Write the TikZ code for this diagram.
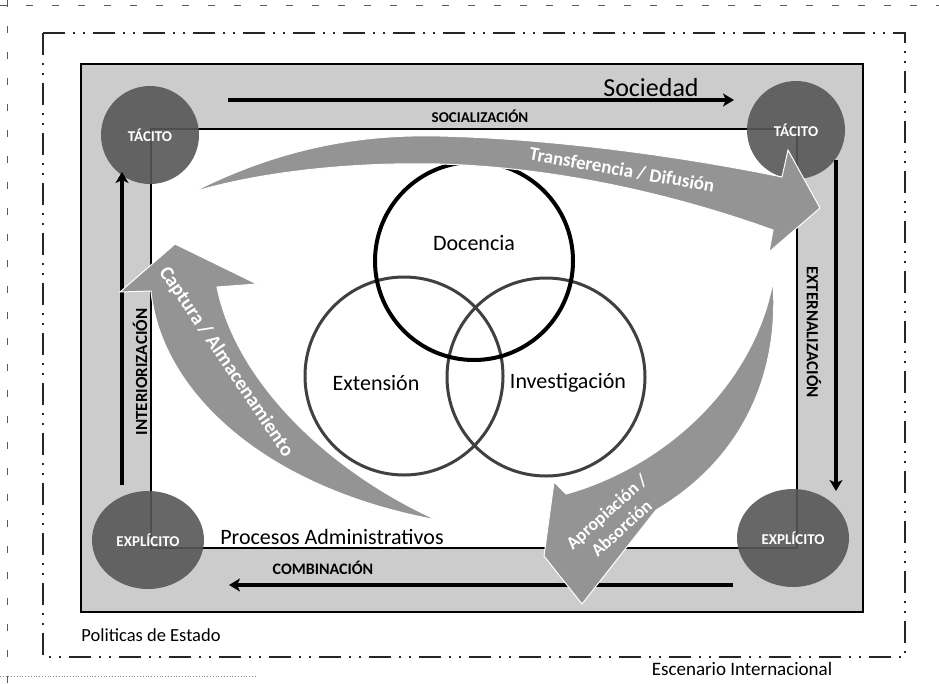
\documentclass[tikz,border=0pt]{standalone}
\usepackage{fontspec}
\setmainfont{Carlito}
\usepackage{tikz}
\usetikzlibrary{positioning}
\usetikzlibrary{arrows.meta}
\usetikzlibrary{shapes.geometric}

\begin{document}
\begin{tikzpicture}[x=1pt, y=-1pt]
    \tikzstyle{corner}=[circle, fill=black!66, fill opacity=0.9, text opacity=1,
            minimum size=98pt, inner sep=0pt, text=white,
            font=\fontsize{15}{16}\selectfont\bfseries]
    \tikzstyle{cornerwide}=[corner, ellipse, minimum width=112pt, minimum height=98pt]
    \tikzstyle{flow}=[line width=3.2pt, -{Stealth[length=11pt, width=13pt, inset=3pt]}]
    \tikzstyle{flowlabel}=[inner sep=1pt, font=\fontsize{15}{16}\selectfont\bfseries]
    \tikzstyle{bigarrow}=[fill=black!42, draw=white, line width=1pt]
    \tikzstyle{arrowtext}=[inner sep=0pt, text=white, align=center,
            font=\fontsize{19}{21}\selectfont\bfseries]
    \tikzstyle{venn}=[circle, minimum size=198pt, inner sep=0pt,
            line width=3pt, draw=black!75]
    \tikzstyle{area}=[font=\fontsize{22}{24}\selectfont]

        \useasboundingbox (0,0) rectangle (939,683);
        \fill[white] (0,0) rectangle (939,683);

        % page and scenario frames
        \draw[black!65, line width=1pt, dash pattern=on 7pt off 19pt] (0,5) -- (939,5);
        \draw[black!65, line width=1pt, dash pattern=on 7pt off 19pt] (7,0) -- (7,683);
        \draw[black!45, line width=0.8pt, dotted] (0,676) -- (257,676);
        \draw[black!85, line width=1.3pt,
            dash pattern=on 22pt off 8pt on 2pt off 8pt on 2pt off 8pt]
            (43,33) rectangle (905,657);

        % society box
        \draw[fill=black!20, line width=1.6pt] (81,64) rectangle (863,612);
        \draw[fill=white, line width=1.2pt] (151,129) rectangle (797,548);

        \foreach \n/\x/\y/\t in {tl/150/135/TÁCITO, tr/796/130/TÁCITO}
        {
            \node[corner] (\n) at (\x,\y) {\t};
        }
        \foreach \n/\x/\y/\t in {bl/148/540/EXPLÍCITO, br/793/538/EXPLÍCITO}
        {
            \node[cornerwide] (\n) at (\x,\y) {\t};
        }

        \coordinate (soc-a) at (228,100);
        \coordinate (soc-b) at (734,100);
        \coordinate (ext-a) at (836,160);
        \coordinate (ext-b) at (836,491);
        \coordinate (com-a) at (733,585);
        \coordinate (com-b) at (229,585);
        \coordinate (int-a) at (122,485);
        \coordinate (int-b) at (122,172);

        \draw[flow] (soc-a) -- (soc-b);
        \draw[flow] (ext-a) -- (ext-b);
        \draw[flow] (com-a) -- (com-b);
        \draw[flow] (int-a) -- (int-b);

        \node[flowlabel] (soc-lbl) at (480,116) {SOCIALIZACIÓN};
        \node[flowlabel, rotate=-90, font=\fontsize{17}{18}\selectfont\bfseries]
            (ext-lbl) at (814,332) {EXTERNALIZACIÓN};
        \node[flowlabel, font=\fontsize{16}{17}\selectfont\bfseries]
            (com-lbl) at (323,568) {COMBINACIÓN};
        \node[flowlabel, rotate=90, font=\fontsize{17}{18}\selectfont\bfseries]
            (int-lbl) at (140,372) {INTERIORIZACIÓN};

        \node[venn] (ext) at (404,376) {};
        \node[venn] (inv) at (546,377) {};
        \node[venn, draw=black, line width=4pt] (doc) at (474,261) {};
        \node[area] (doc-lbl) at (474,243) {Docencia};
        \node[area] (ext-txt) at (376,383) {Extensión};
        \node[area] (inv-lbl) at (568,383) {Investigación};

        \draw[bigarrow] (193,192) .. controls (280,148) and (360,134) .. (440,136)
            .. controls (560,139) and (690,158) .. (782,177)
            -- (788,150) -- (820,208) -- (769,252) -- (773,230)
            .. controls (690,200) and (570,168) .. (440,164)
            .. controls (350,162) and (260,172) .. (193,192) -- cycle;
        \draw[bigarrow] (437,520) .. controls (330,472) and (236,382) .. (217,287)
            -- (257,284) -- (175,244) -- (120,292) -- (151,291)
            .. controls (160,387) and (258,487) .. (437,520) -- cycle;
        \draw[bigarrow] (773,282) .. controls (780,380) and (738,462) .. (656,510)
            -- (582,604) -- (544,556) -- (554,482) -- (566,494)
            .. controls (660,468) and (752,390) .. (773,282) -- cycle;

        \node[arrowtext, rotate=-10] (tra-lbl) at (622,170) {Transferencia / Difusión};
        \node[arrowtext, rotate=-56, font=\fontsize{20}{22}\selectfont\bfseries]
            (cap-lbl) at (226,362) {Captura / Almacenamiento};
        \node[arrowtext, rotate=42, font=\fontsize{18}{20}\selectfont\bfseries]
            (apr-lbl) at (614,520) {Apropiación /\\[2pt]Absorción};

        \node[font=\fontsize{26}{28}\selectfont] (soc) at (651,88) {Sociedad};
        \node[font=\fontsize{22}{24}\selectfont] (proc) at (332,537) {Procesos Administrativos};
        \node[font=\fontsize{18.5}{20}\selectfont] (pol) at (151,635) {Politicas de Estado};
        \node[font=\fontsize{19}{21}\selectfont] (esc) at (742,669) {Escenario Internacional};
    \end{tikzpicture}
\end{document}
